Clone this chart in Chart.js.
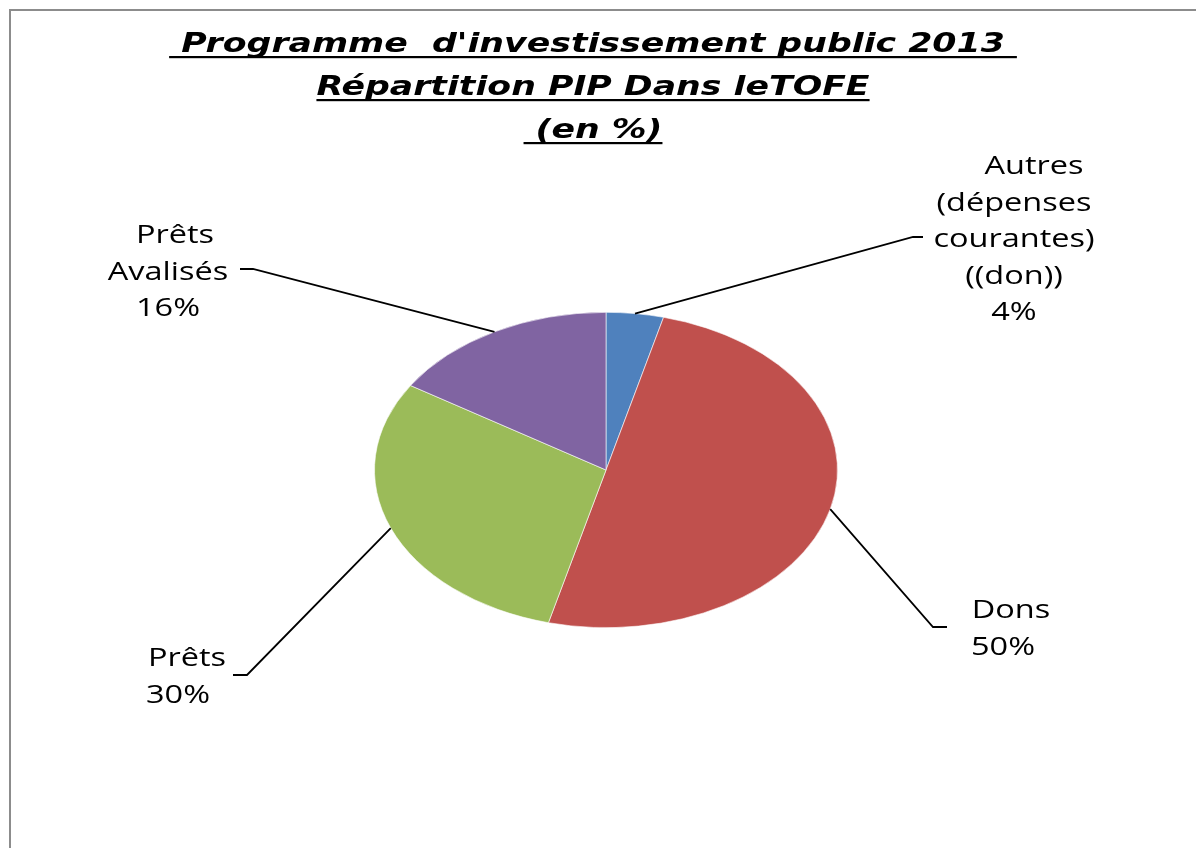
<!DOCTYPE html>
<html>
<head>
<meta charset="utf-8">
<script src="https://cdn.jsdelivr.net/npm/chart.js@4.4.1/dist/chart.umd.min.js"></script>
<style>
    body { margin: 0; background: #fff; overflow: hidden; }
    #wrap { position: relative; width: 1196px; height: 848px; overflow: hidden; }
    #frame { position: absolute; left: 9px; top: 9px; width: 1300px; height: 1000px; border: 2px solid #8c8c8c; }
    #pip { position: absolute; left: 0; top: 0; }
</style>
</head>
<body>
<div id="wrap">
    <div id="frame"></div>
    <canvas id="pip" width="1196" height="848"></canvas>
</div>
<script>
// --- PIP 2013 : répartition dans le TOFE ---

const titleLines = [' Programme  d\'investissement public 2013 ', 'Répartition PIP Dans leTOFE', ' (en %)'];
const categories = ['Autres (dépenses courantes) ((don))', 'Dons', 'Prêts', 'Prêts Avalisés'];
const categoryLines = [['Autres', '(dépenses', 'courantes)', '((don))'], ['Dons'], ['Prêts'], ['Prêts', 'Avalisés']];
const values = [4, 50, 30, 16];
const sliceColors = ['#4F81BD', '#C0504D', '#9BBB59', '#8064A2'];

// pie is drawn squashed vertically, like the Excel ellipse
const squash = 158 / 232;
const stretchX = 1.3;
const titleStretch = 1.335;

// where each label sits (elbow of the leader, end of the tick, text centre, first baseline, first line shift)
const labelSpots = [
    { elbow: [913, 237], tick: [923, 237], cx: 1014, y: 174, dx: 20 },
    { elbow: [933, 627], tick: [947, 627], cx: 1003, y: 618, dx: 8 },
    { elbow: [247, 675], tick: [233, 675], cx: 178, y: 666, dx: 9 },
    { elbow: [253, 269], tick: [240, 269], cx: 168, y: 243, dx: 7 }
];

function centerOf(chart) {
    const arc = chart.getDatasetMeta(0).data[0];
    return { x: arc.x, y: arc.y, r: arc.outerRadius };
}

const ellipsePlugin = {
    id: 'ellipse',
    beforeDatasetsDraw(chart) {
        const ctx = chart.ctx;
        const c = centerOf(chart);
        ctx.save();
        ctx.translate(c.x, c.y);
        ctx.scale(1, squash);
        ctx.translate(-c.x, -c.y);
    },
    afterDatasetsDraw(chart) {
        chart.ctx.restore();
    }
};

function stretchedText(ctx, text, cx, y, sx) {
    ctx.save();
    ctx.translate(cx, y);
    ctx.scale(sx, 1);
    ctx.fillText(text, 0, 0);
    ctx.restore();
}

const decorPlugin = {
    id: 'decor',
    afterDraw(chart) {
        const ctx = chart.ctx;
        const c = centerOf(chart);
        const total = values.reduce((a, b) => a + b, 0);

        // Title
        ctx.save();
        ctx.fillStyle = '#000';
        ctx.textAlign = 'center';
        ctx.textBaseline = 'alphabetic';
        ctx.font = 'italic bold 26px "DejaVu Sans"';
        const tBase = [52, 95, 138];
        titleLines.forEach((t, i) => {
            stretchedText(ctx, t, 593, tBase[i], titleStretch);
            const w = ctx.measureText(t).width * titleStretch;
            ctx.fillRect(593 - w / 2, tBase[i] + 4, w, 2.2);
        });
        ctx.restore();

        // Leader lines + labels
        ctx.save();
        ctx.strokeStyle = '#000';
        ctx.lineWidth = 1.8;
        ctx.fillStyle = '#000';
        ctx.textAlign = 'center';
        ctx.font = '500 25px "Open Sans"';
        chart.getDatasetMeta(0).data.forEach((arc, i) => {
            const mid = (arc.startAngle + arc.endAngle) / 2;
            const px = c.x + c.r * Math.cos(mid);
            const py = c.y + c.r * Math.sin(mid) * squash;
            const s = labelSpots[i];
            ctx.beginPath();
            ctx.moveTo(px, py);
            ctx.lineTo(s.elbow[0], s.elbow[1]);
            ctx.lineTo(s.tick[0], s.tick[1]);
            ctx.stroke();

            const lines = categoryLines[i].concat([Math.round(values[i] / total * 100) + '%']);
            lines.forEach((ln, j) => stretchedText(ctx, ln, s.cx + (j === 0 ? s.dx : 0), s.y + j * 36.5, stretchX));
        });
        ctx.restore();
    }
};

new Chart(document.getElementById('pip'), {
    type: 'pie',
    data: {
        labels: categories,
        datasets: [{
            data: values,
            backgroundColor: sliceColors,
            borderColor: 'rgba(255,255,255,0.7)',
            borderWidth: 1
        }]
    },
    options: {
        responsive: false,
        animation: false,
        events: [],
        layout: { padding: { left: 374, right: 358, top: 238, bottom: 146 } },
        plugins: {
            legend: { display: false },
            title: { display: false },
            tooltip: { enabled: false }
        }
    },
    plugins: [ellipsePlugin, decorPlugin]
});
</script>
</body>
</html>
